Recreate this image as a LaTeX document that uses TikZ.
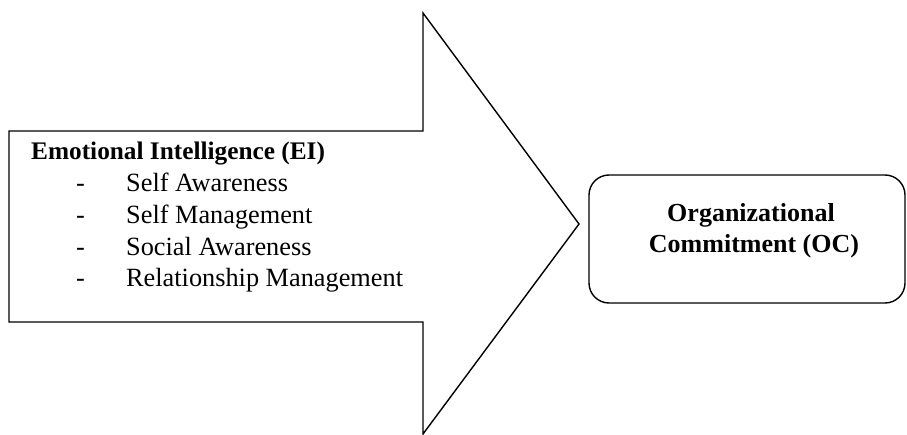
\documentclass[tikz,border=0pt]{standalone}
\usepackage{fontspec}
\setmainfont{Liberation Serif}
\begin{document}
\begin{tikzpicture}[x=1pt,y=-1pt,
  outline/.style={draw=black, line width=1.4pt, line join=miter},
  txt/.style={inner sep=0pt, anchor=base west, font=\fontsize{26.3}{31.7}\selectfont},
  btxt/.style={inner sep=0pt, anchor=base, font=\fontsize{26}{31}\selectfont\bfseries}]
\useasboundingbox (0,0) rectangle (907,435);
% big arrow
\draw[outline] (9,131) -- (423,131) -- (423,13) -- (579,224) -- (423,434) -- (423,322) -- (9,322) -- cycle;
% rounded box
\draw[outline, rounded corners=20pt] (589,175) rectangle (905,303);
\node[txt, font=\fontsize{25.3}{31.7}\selectfont\bfseries] (ei) at (31,160) {Emotional Intelligence (EI)};
\foreach \t [count=\i] in {Self Awareness, Self Management, Social Awareness, Relationship Management}{
  \node[txt] (d\i) at (76,{160+31.7*\i}) {-};
  \node[txt] (it\i) at (126,{160+31.7*\i}) {\t};
}
\node[btxt] (oc1) at (751,221.5) {Organizational};
\node[btxt] (oc2) at (754,252.5) {Commitment (OC)};
\end{tikzpicture}
\end{document}
